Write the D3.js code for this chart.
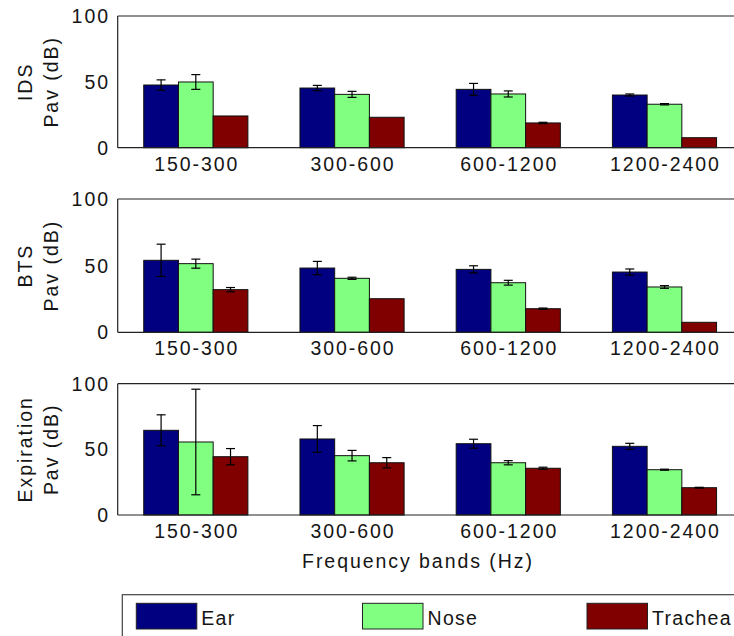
<!DOCTYPE html>
<html>
<head>
<meta charset="utf-8">
<script src="https://cdn.jsdelivr.net/npm/d3@7"></script>
<style>
  html, body { margin: 0; padding: 0; background: #fff; }
  text { font-family: "Liberation Sans", Arial, Helvetica, sans-serif; fill: #151515; }
</style>
</head>
<body>
<svg id="chart" width="734" height="636"></svg>
<script>
// ---- data ----
const categories = ["150-300", "300-600", "600-1200", "1200-2400"];
const seriesNames = ["Ear", "Nose", "Trachea"];
const seriesColors = ["#000080", "#80FF80", "#800000"];
const yTicks = [0, 50, 100];
const panelLabels = [["IDS", "Pav (dB)"], ["BTS", "Pav (dB)"], ["Expiration", "Pav (dB)"]];
const xLabel = "Frequency bands (Hz)";

// IDS panel: values per series across categories
const idsEar      = [47.6, 45.3, 44.3, 40.0];
const idsNose     = [49.9, 40.5, 40.8, 33.0];
const idsTrachea  = [24.1, 23.1, 18.8, 7.6];
const idsEarErr     = [3.9, 2.0, 4.5, 0.8];
const idsNoseErr    = [5.6, 2.3, 2.3, 0.5];
const idsTracheaErr = [0, 0, 0.5, 0];

// BTS panel
const btsEar      = [54.0, 48.2, 47.2, 45.2];
const btsNose     = [51.5, 40.5, 37.2, 34.0];
const btsTrachea  = [32.0, 25.2, 17.7, 7.5];
const btsEarErr     = [12.1, 5.0, 2.7, 2.3];
const btsNoseErr    = [3.4, 0.8, 1.8, 1.0];
const btsTracheaErr = [1.6, 0, 0.5, 0];

// Expiration panel
const expEar      = [64.5, 57.9, 54.3, 52.3];
const expNose     = [55.6, 45.2, 39.8, 34.5];
const expTrachea  = [44.4, 39.8, 35.6, 20.8];
const expEarErr     = [11.8, 10.2, 3.4, 2.3];
const expNoseErr    = [40.2, 4.0, 1.6, 0.4];
const expTracheaErr = [6.2, 3.9, 0.8, 0.3];

const panels = [
  { values: [idsEar, idsNose, idsTrachea], errors: [idsEarErr, idsNoseErr, idsTracheaErr] },
  { values: [btsEar, btsNose, btsTrachea], errors: [btsEarErr, btsNoseErr, btsTracheaErr] },
  { values: [expEar, expNose, expTrachea], errors: [expEarErr, expNoseErr, expTracheaErr] }
];

// ---- layout ----
const svg = d3.select("#chart");
const axLeft = 117.7, axRight = 742.6;
const panelTops = [16, 199, 383.7];
const panelBottoms = [147.7, 332.3, 515];
const fontSize = 19.5;
const letterSp = 1.95;

const x = d3.scaleBand().domain(categories).range([axLeft, axRight])
  .paddingInner(1/3).paddingOuter(1/6);
const xs = d3.scaleBand().domain(seriesNames).range([0, x.bandwidth()]).padding(0);

panels.forEach((p, pi) => {
  const top = panelTops[pi], bottom = panelBottoms[pi];
  const y = d3.scaleLinear().domain([0, 100]).range([bottom, top]);
  const g = svg.append("g");

  // bars
  seriesNames.forEach((s, si) => {
    g.selectAll(null).data(categories).enter().append("rect")
      .attr("x", c => x(c) + xs(s))
      .attr("width", xs.bandwidth())
      .attr("y", (c, ci) => y(p.values[si][ci]))
      .attr("height", (c, ci) => y(0) - y(p.values[si][ci]))
      .attr("fill", seriesColors[si])
      .attr("stroke", "#111")
      .attr("stroke-width", 1);
  });

  // error bars
  seriesNames.forEach((s, si) => {
    categories.forEach((c, ci) => {
      const e = p.errors[si][ci];
      if (!e) return;
      const v = p.values[si][ci];
      const cx = x(c) + xs(s) + xs.bandwidth() / 2;
      const eg = g.append("g").attr("stroke", "#000").attr("stroke-width", 1.2);
      eg.append("line").attr("x1", cx).attr("x2", cx).attr("y1", y(v - e)).attr("y2", y(v + e));
      [v - e, v + e].forEach(vv => {
        eg.append("line").attr("x1", cx - 4.5).attr("x2", cx + 4.5).attr("y1", y(vv)).attr("y2", y(vv));
      });
    });
  });

  // frame: top, left, bottom
  const frame = g.append("g").attr("stroke", "#222").attr("stroke-width", 1.2).attr("fill", "none");
  frame.append("line").attr("x1", axLeft).attr("x2", axRight).attr("y1", y(100)).attr("y2", y(100));
  frame.append("line").attr("x1", axLeft).attr("x2", axRight).attr("y1", y(0)).attr("y2", y(0));
  frame.append("line").attr("x1", axLeft).attr("x2", axLeft).attr("y1", y(0)).attr("y2", y(100));

  // y tick labels
  g.selectAll(null).data(yTicks).enter().append("text")
    .attr("x", 110).attr("y", d => y(d))
    .attr("dy", "0.36em")
    .attr("text-anchor", "end")
    .attr("font-size", fontSize)
    .attr("letter-spacing", letterSp)
    .text(d => d);

  // x tick labels
  g.selectAll(null).data(categories).enter().append("text")
    .attr("x", c => x(c) + x.bandwidth() / 2 + letterSp / 2)
    .attr("y", y(0) + 23)
    .attr("text-anchor", "middle")
    .attr("font-size", fontSize)
    .attr("letter-spacing", letterSp)
    .text(c => c);

  // y label (two lines, rotated)
  const cy = (top + bottom) / 2;
  panelLabels[pi].forEach((line, li) => {
    g.append("text")
      .attr("transform", `translate(${32 + li * 25.5},${cy}) rotate(-90)`)
      .attr("text-anchor", "middle")
      .attr("font-size", fontSize)
      .attr("letter-spacing", letterSp)
      .text(line);
  });
});

// x axis title
svg.append("text")
  .attr("x", 418).attr("y", 568)
  .attr("text-anchor", "middle")
  .attr("font-size", fontSize)
  .attr("letter-spacing", letterSp)
  .text(xLabel);

// legend
const lg = svg.append("g");
lg.append("rect").attr("x", 122.3).attr("y", 594.7).attr("width", 640).attr("height", 60)
  .attr("fill", "#fff").attr("stroke", "#444").attr("stroke-width", 1.2);
const legendX = [136.3, 362.5, 587];
seriesNames.forEach((s, si) => {
  lg.append("rect").attr("x", legendX[si]).attr("y", 603.3).attr("width", 60.5).attr("height", 25.7)
    .attr("fill", seriesColors[si]).attr("stroke", "#222").attr("stroke-width", 1);
  lg.append("text").attr("x", legendX[si] + 65).attr("y", 625.3)
    .attr("font-size", fontSize).attr("letter-spacing", 1.3).text(s);
});
</script>
</body>
</html>
